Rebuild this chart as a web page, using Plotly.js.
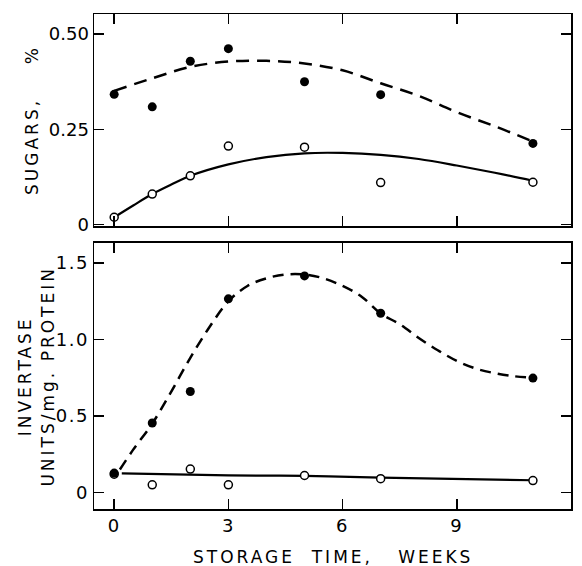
<!DOCTYPE html>
<html><head><meta charset="utf-8">
<script src="https://cdn.plot.ly/plotly-3.0.1.min.js"></script>
<style>
body{margin:0;background:#fff}
#chart .annotation-text{letter-spacing:3px}
#chart .ytick text,#chart .xtick text{letter-spacing:1.5px}
</style>
</head><body><div id="chart" style="width:582px;height:566px"></div>
<script>
const weeks = [0,1,2,3,5,7,11];
const sugarFilled = [0.342,0.309,0.429,0.462,0.375,0.341,0.213];
const sugarOpen = [0.019,0.080,0.128,0.206,0.203,0.110,0.111];
const invFilled = [0.127,0.454,0.66,1.266,1.416,1.172,0.748];
const invOpen = [0.12,0.05,0.153,0.05,0.111,0.09,0.078];
const sugarFilledCurveX = [0,1,2,3,4,5,6,7,8,9,10,11];
const sugarFilledCurve = [0.351,0.384,0.414,0.428,0.430,0.423,0.405,0.371,0.338,0.295,0.258,0.218];
const sugarOpenCurveX = [0,0.5,1,1.5,2,3,4,5,6,7,8,9,10,11];
const sugarOpenCurve = [0.019,0.05,0.08,0.105,0.128,0.158,0.177,0.187,0.188,0.183,0.172,0.155,0.136,0.115];
const invFilledCurveX = [0.15,0.5,1,1.5,2,2.5,3,3.5,4,4.5,5,5.5,6,6.5,7,7.5,8,8.5,9,9.5,10,10.5,11];
const invFilledCurve = [0.15,0.28,0.45,0.66,0.88,1.08,1.25,1.35,1.40,1.425,1.425,1.40,1.35,1.28,1.17,1.10,1.01,0.93,0.86,0.81,0.78,0.76,0.75];
const invOpenCurveX = [0.2,3,5,7,11];
const invOpenCurve = [0.125,0.112,0.108,0.097,0.08];
const xTicks = [0,3,6,9,12];
const sugarTicks = [0,0.25,0.5];
const sugarTickText = ['0','0.25','0.50'];
const invTicks = [0,0.5,1,1.5];
const invTickText = ['0','0.5','1.0','1.5'];

const FONT = 'DejaVu Sans, sans-serif';
const filledM = {size:9,color:'#000'};
const openM = {size:8,color:'#fff',line:{color:'#000',width:1.5}};
const traces = [
  {x:sugarFilledCurveX,y:sugarFilledCurve,xaxis:'x2',yaxis:'y2',mode:'lines',line:{color:'#000',width:2.5,dash:'13px,8px',shape:'spline',smoothing:1}},
  {x:sugarOpenCurveX,y:sugarOpenCurve,xaxis:'x2',yaxis:'y2',mode:'lines',line:{color:'#000',width:2.2,shape:'spline',smoothing:1}},
  {x:weeks,y:sugarOpen,xaxis:'x2',yaxis:'y2',mode:'markers',marker:openM},
  {x:weeks,y:sugarFilled,xaxis:'x2',yaxis:'y2',mode:'markers',marker:filledM},
  {x:invFilledCurveX,y:invFilledCurve,xaxis:'x',yaxis:'y',mode:'lines',line:{color:'#000',width:2.5,dash:'11px,7px',shape:'spline',smoothing:1}},
  {x:invOpenCurveX,y:invOpenCurve,xaxis:'x',yaxis:'y',mode:'lines',line:{color:'#000',width:2.2,shape:'spline',smoothing:1}},
  {x:weeks,y:invOpen,xaxis:'x',yaxis:'y',mode:'markers',marker:openM},
  {x:weeks,y:invFilled,xaxis:'x',yaxis:'y',mode:'markers',marker:filledM}
];
const axBase = {showgrid:false,zeroline:false,showline:true,linecolor:'#000',linewidth:1.5,mirror:'ticks',ticks:'inside',ticklen:10,tickwidth:1.5,tickcolor:'#000',tickfont:{family:FONT,size:18,color:'#000'}};
const layout = {
  width:582,height:566,showlegend:false,
  paper_bgcolor:'#fff',plot_bgcolor:'#fff',
  margin:{l:94,r:11,t:14,b:57},
  xaxis:Object.assign({},axBase,{domain:[0,1],range:[-0.53,12],anchor:'y',tickvals:xTicks,ticktext:xTicks.map(String)}),
  xaxis2:Object.assign({},axBase,{domain:[0,1],range:[-0.53,12],anchor:'y2',matches:'x',tickvals:xTicks,showticklabels:false}),
  yaxis:Object.assign({},axBase,{domain:[0,0.5374],range:[-0.108,1.631],anchor:'x',tickvals:invTicks,ticktext:invTickText}),
  yaxis2:Object.assign({},axBase,{domain:[0.5717,1],range:[-0.004,0.553],anchor:'x2',tickvals:sugarTicks,ticktext:sugarTickText}),
  annotations:[
    {text:'SUGARS,\u00a0\u00a0\u00a0\u00a0%',xref:'paper',yref:'paper',x:-0.13,y:0.7859,xanchor:'center',yanchor:'middle',textangle:-90,showarrow:false,font:{family:FONT,size:17,color:'#000'}},
    {text:'INVERTASE<br>UNITS/mg. PROTEIN',xref:'paper',yref:'paper',x:-0.12,y:0.268,xanchor:'center',yanchor:'middle',textangle:-90,showarrow:false,font:{family:FONT,size:17,color:'#000'}},
    {text:'STORAGE\u00a0\u00a0TIME,\u00a0\u00a0\u00a0WEEKS',xref:'paper',yref:'paper',x:0.5,y:-0.097,xanchor:'center',yanchor:'middle',showarrow:false,font:{family:FONT,size:17,color:'#000'}}
  ]
};
Plotly.newPlot('chart',traces,layout,{displayModeBar:false,staticPlot:true});
</script></body></html>
